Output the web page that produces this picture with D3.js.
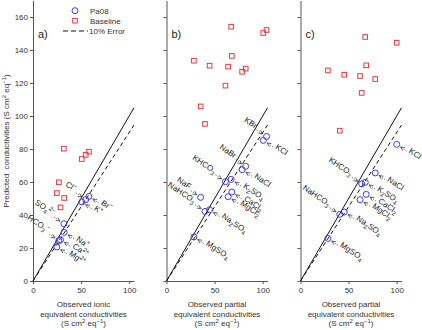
<!DOCTYPE html>
<html>
<head>
<meta charset="utf-8">
<script src="https://cdn.jsdelivr.net/npm/d3@7"></script>
<style>
  body { margin: 0; background: #fff; }
  svg { font-family: "Liberation Sans", Arial, sans-serif; }
</style>
</head>
<body>
<svg id="chart"></svg>
<script>
let w = 422;
let h = 330;

// panel a: single ions
let ionNames = ["Br^-", "Cl^-", "K^+", "SO_4^2-", "Na^+", "HCO_3^-", "Ca^2+", "Mg^2+"];
let ionObserved = [58.2, 54.8, 50.7, 32.1, 32.4, 26.9, 28.6, 24.8];
let ionPa08 = [51.3, 49.3, 47.9, 34.7, 29.5, 24.5, 25.0, 20.6];
let ionBaseline = [78.4, 76.5, 73.9, 80.2, 50.3, 59.8, 44.6, 53.3];
let ionSide = ["R", "L", "R", "L", "R", "L", "R", "R"];

// panel b: salts
let saltNamesB = ["KCl", "KBr", "NaBr", "NaCl", "K_2SO_4", "KHCO_3", "CaCl_2", "MgCl_2", "NaF", "Na_2SO_4", "NaHCO_3", "MgSO_4"];
let saltObservedB = [100.6, 104.0, 82.3, 78.6, 67.2, 61.3, 67.9, 64.1, 35.5, 44.8, 40.0, 28.5];
let saltPa08B = [85.2, 87.6, 69.5, 67.5, 61.6, 60.2, 53.9, 51.1, 50.7, 43.2, 42.2, 26.7];
let saltBaselineB = [150.3, 152.1, 128.7, 126.8, 154.1, 118.4, 136.4, 129.9, 105.8, 130.5, 95.2, 133.5];
let saltSideB = ["R", "L", "L", "R", "R", "L", "R", "R", "L", "R", "L", "R"];

// panel c: salts
let saltNamesC = ["KCl", "NaCl", "K_2SO_4", "KHCO_3", "CaCl_2", "MgCl_2", "Na_2SO_4", "NaHCO_3", "MgSO_4"];
let saltObservedC = [100.0, 77.7, 67.3, 63.6, 68.3, 61.9, 45.5, 40.8, 28.5];
let saltPa08C = [82.8, 65.5, 59.8, 58.8, 52.5, 49.3, 41.8, 40.4, 25.8];
let saltBaselineC = [144.4, 122.4, 147.9, 114.0, 130.7, 124.2, 125.0, 91.1, 127.6];
let saltSideC = ["R", "R", "R", "L", "R", "R", "R", "L", "R"];

let xTicks = [0, 50, 100];
let yTicks = [0, 20, 40, 60, 80, 100, 120, 140, 160];
let errorFactor = 0.9;   // 10% error line
let lineMax = 105;

let blue = "#3b3bf2";
let red = "#e8383d";
let axisColor = "#555";

let svg = d3.select("#chart").attr("width", w).attr("height", h);

svg.append("defs").append("marker")
  .attr("id", "arrow")
  .attr("viewBox", "0 0 6 6")
  .attr("refX", 5.5).attr("refY", 3)
  .attr("markerWidth", 5).attr("markerHeight", 5)
  .attr("markerUnits", "userSpaceOnUse")
  .attr("orient", "auto")
  .append("path")
  .attr("d", "M0.5,0.8 L5.5,3 L0.5,5.2")
  .attr("fill", "none")
  .attr("stroke", "#333")
  .attr("stroke-width", 0.8);

// write text with _sub and ^super parts
function richText(sel, str, fs) {
  let re = /_(\d+)|\^([+-]?\d*[+-]?)|([^_^]+)/g;
  let m, cur = 0;
  while ((m = re.exec(str)) !== null) {
    let t, off, size;
    if (m[1] !== undefined) { t = m[1]; off = fs * 0.3; size = fs * 0.75; }
    else if (m[2] !== undefined) { t = m[2].replace(/-/g, "\u2212"); off = -fs * 0.4; size = fs * 0.75; }
    else { t = m[3]; off = 0; size = fs; }
    sel.append("tspan").attr("dy", off - cur).attr("font-size", size).text(t);
    cur = off;
  }
}

let y = d3.scaleLinear().domain([0, 170]).range([281, 0.5]);

let panels = [
  { tag: "a)", left: 33, names: ionNames, obs: ionObserved, pa08: ionPa08, base: ionBaseline, side: ionSide,
    title: ["Observed ionic", "equivalent conductivities", "(S cm^2 eq^-1)"], yLabels: true, legend: true },
  { tag: "b)", left: 166.5, names: saltNamesB, obs: saltObservedB, pa08: saltPa08B, base: saltBaselineB, side: saltSideB,
    title: ["Observed partial", "equivalent conductivities", "(S cm^2 eq^-1)"], yLabels: false, legend: false },
  { tag: "c)", left: 300.5, names: saltNamesC, obs: saltObservedC, pa08: saltPa08C, base: saltBaselineC, side: saltSideC,
    title: ["Observed partial", "equivalent conductivities", "(S cm^2 eq^-1)"], yLabels: false, legend: false }
];

let ang = 34;
let dx = Math.cos(ang * Math.PI / 180), dy = Math.sin(ang * Math.PI / 180);

panels.forEach((p) => {
  let x = d3.scaleLinear().domain([0, 105]).range([p.left, p.left + 101]);
  let g = svg.append("g");

  // axes
  let xAxis = d3.axisBottom(x).tickValues(xTicks).tickSize(3).tickSizeOuter(0).tickPadding(3);
  let yAxis = d3.axisLeft(y).tickValues(yTicks).tickSize(3).tickSizeOuter(0).tickPadding(2)
    .tickFormat(p.yLabels ? d3.format("d") : "");

  let xg = g.append("g").attr("transform", `translate(0, ${y(0)})`).call(xAxis);
  let yg = g.append("g").attr("transform", `translate(${p.left}, 0)`).call(yAxis);
  [xg, yg].forEach((ag) => {
    ag.select(".domain").attr("stroke", axisColor).attr("stroke-width", 1);
    ag.selectAll(".tick line").attr("stroke", axisColor);
    ag.selectAll(".tick text").attr("fill", "#333").attr("font-size", 8)
      .attr("font-family", "Liberation Sans, Arial, sans-serif");
  });

  // 1:1 and 10% error lines
  g.append("line")
    .attr("x1", x(0)).attr("y1", y(0)).attr("x2", x(lineMax)).attr("y2", y(lineMax))
    .attr("stroke", "#111").attr("stroke-width", 1);
  g.append("line")
    .attr("x1", x(0)).attr("y1", y(0)).attr("x2", x(lineMax)).attr("y2", y(lineMax * errorFactor))
    .attr("stroke", "#111").attr("stroke-width", 1).attr("stroke-dasharray", "4,3");

  let idx = d3.range(p.names.length);

  // baseline squares
  g.selectAll(".base").data(idx).join("rect")
    .attr("x", (i) => x(p.obs[i]) - 2.3).attr("y", (i) => y(p.base[i]) - 2.3)
    .attr("width", 4.6).attr("height", 4.6)
    .attr("fill", "none").attr("stroke", red).attr("stroke-width", 1);

  // Pa08 circles
  g.selectAll(".pa").data(idx).join("circle")
    .attr("cx", (i) => x(p.obs[i])).attr("cy", (i) => y(p.pa08[i])).attr("r", 3)
    .attr("fill", "none").attr("stroke", blue).attr("stroke-width", 1);

  // annotations
  idx.forEach((i) => {
    let px = x(p.obs[i]), py = y(p.pa08[i]);
    let s = p.side[i] === "R" ? 1 : -1;
    g.append("line")
      .attr("x1", px + s * dx * 12).attr("y1", py + s * dy * 12)
      .attr("x2", px + s * dx * 4.5).attr("y2", py + s * dy * 4.5)
      .attr("stroke", "#333").attr("stroke-width", 0.6).attr("stroke-dasharray", "1.5,1")
      .attr("marker-end", "url(#arrow)");
    let tx = px + s * dx * 14, ty = py + s * dy * 14;
    let t = g.append("text")
      .attr("transform", `translate(${tx},${ty}) rotate(${ang})`)
      .attr("dy", "0.35em")
      .attr("text-anchor", s > 0 ? "start" : "end")
      .attr("font-size", 8).attr("fill", "#222");
    richText(t, p.names[i], 8);
  });

  // panel tag
  g.append("text").attr("x", p.left + 5).attr("y", 38).attr("font-size", 11).attr("fill", "#222").text(p.tag);

  // x title
  let cx = p.left + 50.5;
  p.title.forEach((line, k) => {
    let t = g.append("text").attr("x", cx).attr("y", 307 + k * 9.5)
      .attr("text-anchor", "middle").attr("font-size", 8).attr("fill", "#333");
    richText(t, line, 8);
  });

  // legend
  if (p.legend) {
    let lg = g.append("g");
    lg.append("circle").attr("cx", 75).attr("cy", 10.7).attr("r", 3)
      .attr("fill", "none").attr("stroke", blue).attr("stroke-width", 1);
    lg.append("text").attr("x", 90).attr("y", 13.5).attr("font-size", 8).attr("fill", "#333").text("Pa08");
    lg.append("rect").attr("x", 72.7).attr("y", 18.4).attr("width", 4.6).attr("height", 4.6)
      .attr("fill", "none").attr("stroke", red).attr("stroke-width", 1);
    lg.append("text").attr("x", 90).attr("y", 23.5).attr("font-size", 8).attr("fill", "#333").text("Baseline");
    lg.append("line").attr("x1", 63).attr("x2", 88).attr("y1", 31).attr("y2", 31)
      .attr("stroke", "#111").attr("stroke-width", 1).attr("stroke-dasharray", "5,3");
    lg.append("text").attr("x", 89).attr("y", 33.8).attr("font-size", 8).attr("fill", "#333").text("10% Error");
  }
});

// y title
let yt = svg.append("text")
  .attr("transform", `translate(9, 141) rotate(-90)`)
  .attr("text-anchor", "middle").attr("font-size", 8).attr("fill", "#333")
  .style("white-space", "pre");
richText(yt, "Predicted  conductivities (S cm^2 eq^-1)", 8);
</script>
</body>
</html>
